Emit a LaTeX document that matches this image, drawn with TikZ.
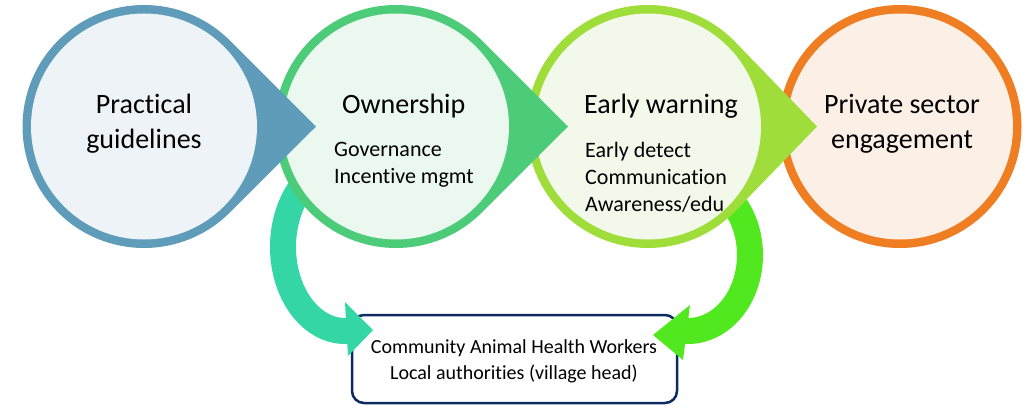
\documentclass[tikz,border=0pt]{standalone}
\usepackage{fontspec}
\usetikzlibrary{calc}
\setmainfont{Carlito}[Ligatures={NoCommon}]
\begin{document}
\begin{tikzpicture}[x=1pt,y=-1pt,
  title/.style={font=\fontsize{28}{35}\selectfont, align=center, anchor=base, inner sep=0pt},
  detail/.style={font=\fontsize{22}{27}\selectfont, align=left, anchor=base west, inner sep=0pt},
  boxtext/.style={font=\fontsize{20}{25.7}\selectfont, align=center, anchor=base, inner sep=0pt},
  bendarrow/.style={line width=26},
]
\definecolor{blueRing}{HTML}{5E9CB9}\definecolor{blueFill}{HTML}{EEF3F8}
\definecolor{greenRing}{HTML}{4CCB78}\definecolor{greenFill}{HTML}{EBF8F0}
\definecolor{limeRing}{HTML}{9EDD3A}\definecolor{limeFill}{HTML}{F3F9EA}
\definecolor{orangeRing}{HTML}{EF7D22}\definecolor{orangeFill}{HTML}{FCEFE6}
\definecolor{tealArrow}{HTML}{33D6A4}\definecolor{limeArrow}{HTML}{52E81F}
\definecolor{navyEdge}{HTML}{0E2A62}

\useasboundingbox (0,0) rectangle (1026,405);

% circle centres
\coordinate (c1) at (144,126.5);
\coordinate (c2) at (396,126.5);
\coordinate (c3) at (648,126.5);
\coordinate (c4) at (900,126.5);

% bottom box and its two lines (multi-line nodes sit on their last baseline)
\node[draw=navyEdge, line width=2.5, rounded corners=12, fill=white,
      minimum width=325, minimum height=88] (chw) at (514.5,359) {};
\node[boxtext] (chwtext) at (514,379)
  {Community Animal Health Workers\\Local authorities (village head)};

% curved arrows into the box
\coordinate (tealTip) at (373,330);
\coordinate (limeTip) at (653,335);
\draw[bendarrow, tealArrow] (345,247) ++(230:62 and 84)
  arc[start angle=230, end angle=85, x radius=62, y radius=84];
\fill[tealArrow] (345,302) -- (tealTip) -- (348,356) -- cycle;
\draw[bendarrow, limeArrow] (688,255) ++(-50:62 and 76)
  arc[start angle=-50, end angle=95, x radius=62, y radius=76];
\fill[limeArrow] (690,305) -- (limeTip) -- (683,360) -- cycle;

% bubbles, drawn right to left so each point lies over the next circle
\fill[orangeRing] (c4) circle[radius=121.5];
\fill[orangeFill] (c4) circle[radius=113];

\fill[limeRing] (c3) ++(-45:121.5) arc[start angle=-45, end angle=-315, radius=121.5]
  -- ($(c3)+(169,0)$) -- cycle;
\fill[limeFill] (c3) circle[radius=113];

\fill[greenRing] (c2) ++(-45:121.5) arc[start angle=-45, end angle=-315, radius=121.5]
  -- ($(c2)+(172,0)$) -- cycle;
\fill[greenFill] (c2) circle[radius=113];

\fill[blueRing] (c1) ++(-45:121.5) arc[start angle=-45, end angle=-315, radius=121.5]
  -- ($(c1)+(172,0)$) -- cycle;
\fill[blueFill] (c1) circle[radius=113];

% texts
\node[title] (guide) at (144,148.5) {Practical\\guidelines};
\node[title] (own) at (403.7,113.3) {Ownership};
\node[detail] (ownsub) at (334,183.4) {Governance\\Incentive mgmt};
\node[title] (warn) at (661,113.3) {Early warning};
\node[detail] (warnsub) at (585,211.7) {Early detect\\Communication\\Awareness/edu};
\node[title] (priv) at (902,148.3) {Private sector\\engagement};
\end{tikzpicture}
\end{document}
